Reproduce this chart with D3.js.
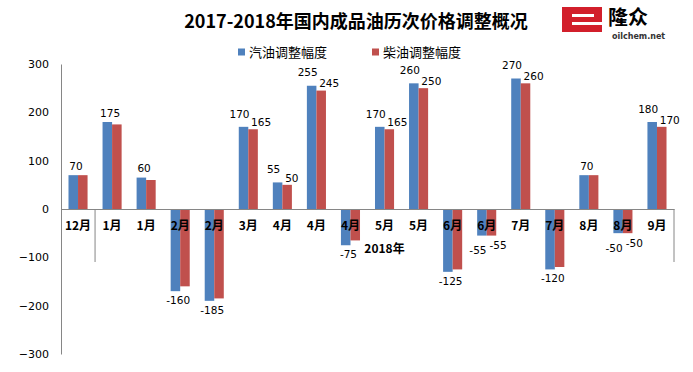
<!DOCTYPE html>
<html>
<head>
<meta charset="utf-8">
<script src="https://cdn.jsdelivr.net/npm/d3@7"></script>
<style>
  body { margin: 0; background: #fff; }
  text { font-family: "DejaVu Sans", Verdana, sans-serif; }
  .cjk { font-family: "Noto Sans CJK SC", sans-serif; }
</style>
</head>
<body>
<div id="chart"></div>
<script>
// categories (adjustment dates)
const months = ['12月', '1月', '1月', '2月', '2月', '3月', '4月', '4月', '4月',
                '5月', '5月', '6月', '6月', '7月', '7月', '8月', '8月', '9月'];
const years = [{ name: '2017年', from: 0, to: 0 }, { name: '2018年', from: 1, to: 17 }];

// price adjustments, yuan/ton
const gasoline = [70, 180, 65, -170, -190, 170, 55, 255, -75, 170, 260, -130, -55, 270, -125, 70, -50, 180];
const diesel   = [70, 175, 60, -160, -185, 165, 50, 245, -65, 165, 250, -125, -55, 260, -120, 70, -50, 170];

// data labels as shown on the chart (null = no label)
const gasLabels    = [null, null, null, null, null, 170, 55, 255, -75, 170, 260, null, -55, 270, null, null, -50, 180];
const dieselLabels = [70, 175, 60, -160, -185, 165, 50, 245, null, 165, 250, -125, -55, 260, -120, 70, -50, 170];

const yTicks = [300, 200, 100, 0, -100, -200, -300];
const seriesNames = ['汽油调整幅度', '柴油调整幅度'];
const colors = ['#4F81BD', '#C0504D'];

const svgWidth = 693;
const svgHeight = 372;
const margin = { top: 64, right: 19, bottom: 18, left: 61 };
const width = svgWidth - margin.left - margin.right;
const height = svgHeight - margin.top - margin.bottom;

const svg = d3.select('#chart')
    .append('svg')
    .attr('width', svgWidth)
    .attr('height', svgHeight);

const g = svg.append('g')
    .attr('transform', `translate(${margin.left},${margin.top})`);

const rows = months.map((m, i) => ({ i, month: m, values: [gasoline[i], diesel[i]], labels: [gasLabels[i], dieselLabels[i]] }));

// scales
const x0 = d3.scaleBand()
    .domain(d3.range(months.length))
    .range([0, width])
    .paddingInner(0.44)
    .paddingOuter(0.22);

const x1 = d3.scaleBand()
    .domain([0, 1])
    .range([0, x0.bandwidth()]);

const y = d3.scaleLinear()
    .domain([-300, 300])
    .range([height, 0]);

const step = x0.step();
const cx = i => x0(i) + x0.bandwidth() / 2;

// bars
const groups = g.selectAll('.grp')
    .data(rows)
    .enter()
    .append('g')
    .attr('transform', d => `translate(${x0(d.i)},0)`);

groups.selectAll('rect')
    .data(d => d.values.map((v, k) => ({ v, k })))
    .enter()
    .append('rect')
    .attr('x', d => x1(d.k))
    .attr('y', d => y(Math.max(0, d.v)))
    .attr('width', x1.bandwidth())
    .attr('height', d => Math.abs(y(d.v) - y(0)))
    .attr('fill', d => colors[d.k]);

// y axis
const yAxis = g.append('g')
    .call(d3.axisLeft(y).tickValues(yTicks).tickSize(0).tickPadding(12).tickFormat(d3.format('d')));
yAxis.select('.domain').attr('stroke', '#868686');
yAxis.selectAll('text').style('font-size', '11px').attr('fill', '#000');

// x axis at zero (multi-level category axis)
const xAxis = g.append('g')
    .attr('transform', `translate(0,${y(0)})`)
    .call(d3.axisBottom(x0).tickSize(0).tickPadding(12).tickFormat(i => months[i]));
xAxis.select('.domain').attr('stroke', '#868686');
xAxis.selectAll('text')
    .attr('class', 'cjk')
    .style('font-size', '12px')
    .style('font-weight', 'bold')
    .attr('fill', '#000');

// year group dividers
const dividers = [1, months.length];
g.selectAll('.divider')
    .data(dividers)
    .enter()
    .append('line')
    .attr('x1', d => d * step)
    .attr('x2', d => d * step)
    .attr('y1', y(0))
    .attr('y2', y(0) + 53)
    .attr('stroke', '#868686');

g.selectAll('.year')
    .data(years.filter(d => d.to > d.from))
    .enter()
    .append('text')
    .attr('class', 'cjk')
    .attr('x', d => (d.from * step + (d.to + 1) * step) / 2)
    .attr('y', y(0) + 44)
    .attr('text-anchor', 'middle')
    .style('font-size', '12px')
    .style('font-weight', 'bold')
    .text(d => d.name);

// data labels
const labelG = g.append('g').style('font-size', '10.5px');
rows.forEach(d => {
    const both = d.labels[0] !== null && d.labels[1] !== null;
    if (both) {
        const vb = d.values[0], vr = d.values[1];
        labelG.append('text')
            .attr('x', x0(d.i) + x1(0) + x1.bandwidth() / 2 - 4)
            .attr('y', vb >= 0 ? y(vb) - 13 : y(vb) + 15)
            .attr('dy', '0.35em')
            .attr('text-anchor', 'middle')
            .text(d.labels[0]);
        labelG.append('text')
            .attr('x', x0(d.i) + x1(1) + x1.bandwidth() / 2 - 2)
            .attr('y', vr >= 0 ? y(vr) - 7 : y(vr) + 10)
            .attr('dy', '0.35em')
            .attr('text-anchor', 'start')
            .text(d.labels[1]);
    } else {
        const lab = d.labels[0] !== null ? d.labels[0] : d.labels[1];
        const ext = lab >= 0 ? d3.max(d.values) : d3.min(d.values);
        labelG.append('text')
            .attr('x', cx(d.i) - 2)
            .attr('y', ext >= 0 ? y(ext) - 9 : y(ext) + 9)
            .attr('dy', '0.35em')
            .attr('text-anchor', 'middle')
            .text(lab);
    }
});

// title
svg.append('text')
    .attr('class', 'cjk')
    .attr('x', 356)
    .attr('y', 22)
    .attr('dy', '0.35em')
    .attr('text-anchor', 'middle')
    .style('font-size', '18px')
    .style('font-weight', 'bold')
    .text('2017-2018年国内成品油历次价格调整概况');

// legend
const legend = svg.append('g')
    .selectAll('g')
    .data(seriesNames)
    .enter()
    .append('g')
    .attr('transform', (d, i) => `translate(${238 + i * 134},52)`);
legend.append('rect')
    .attr('x', 0)
    .attr('y', -3.5)
    .attr('width', 7)
    .attr('height', 7)
    .attr('fill', (d, i) => colors[i]);
legend.append('text')
    .attr('class', 'cjk')
    .attr('x', 11)
    .attr('dy', '0.35em')
    .style('font-size', '13px')
    .text(d => d);

// logo
const logo = svg.append('g').attr('transform', 'translate(562,7)');
logo.append('rect').attr('width', 40).attr('height', 25).attr('fill', '#d21f2b');
logo.append('rect').attr('x', 10).attr('y', 7).attr('width', 22).attr('height', 3).attr('fill', '#fff');
logo.append('rect').attr('x', 10).attr('y', 15).attr('width', 30).attr('height', 3).attr('fill', '#fff');
logo.append('text')
    .attr('class', 'cjk')
    .attr('x', 46)
    .attr('y', 18)
    .style('font-size', '20px')
    .style('font-weight', 'bold')
    .text('隆众');
logo.append('text')
    .attr('x', 50)
    .attr('y', 32)
    .style('font-size', '8px')
    .style('font-weight', 'bold')
    .attr('fill', '#333')
    .text('oilchem.net');
</script>
</body>
</html>
